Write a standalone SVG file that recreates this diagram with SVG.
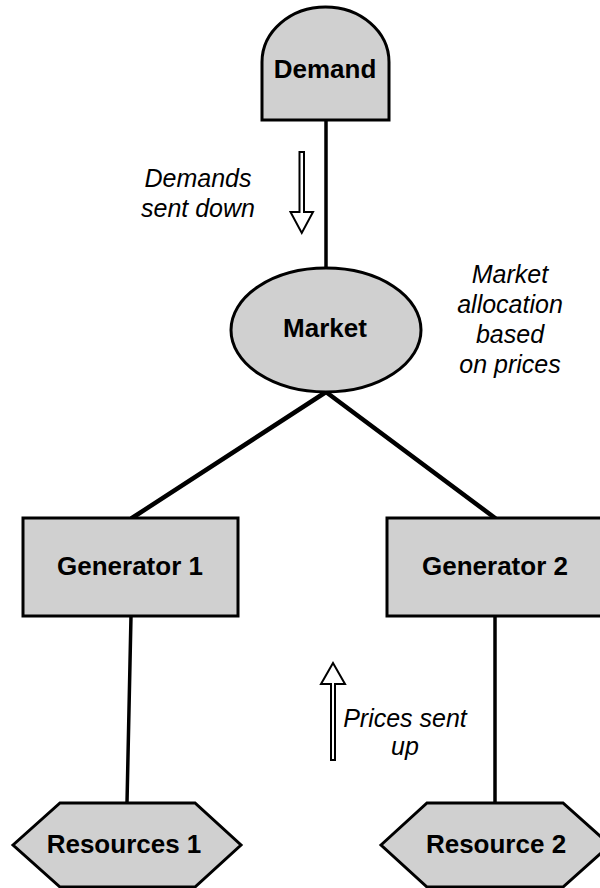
<svg xmlns="http://www.w3.org/2000/svg" width="600" height="888" viewBox="0 0 600 888">
<style>
.node{fill:#d0d0d0;stroke:#000;stroke-width:3;stroke-linejoin:miter}
.lbl{font-family:"Liberation Sans",Arial,sans-serif;font-weight:bold;font-size:26px;fill:#000;text-anchor:middle}
.note{font-family:"Liberation Sans",Arial,sans-serif;font-style:italic;font-size:25px;fill:#000;text-anchor:middle}
.conn{stroke:#000;fill:none;stroke-linecap:round}
.harrow{fill:#fff;stroke:#000;stroke-width:2;stroke-linejoin:miter}
</style>
<rect width="600" height="888" fill="#fff"/>
<g id="connectors">
<line class="conn" x1="326" y1="120" x2="326" y2="268" stroke-width="3.5"/>
<line class="conn" x1="326" y1="392" x2="132" y2="518" stroke-width="4.5"/>
<line class="conn" x1="326" y1="392" x2="495" y2="518" stroke-width="4.5"/>
<line class="conn" x1="131" y1="616" x2="127" y2="803" stroke-width="3.5"/>
<line class="conn" x1="495" y1="616" x2="495" y2="803" stroke-width="3.5"/>
</g>
<g id="demand">
<path class="node" d="M262,120 L262,62 A63.5,55 0 0 1 389,62 L389,120 Z"/>
<text class="lbl" x="325" y="78">Demand</text>
</g>
<g id="market">
<ellipse class="node" cx="326" cy="330" rx="95" ry="62" stroke-width="2"/>
<text class="lbl" x="325" y="337">Market</text>
</g>
<g id="generator1">
<rect class="node" x="23" y="518" width="215" height="98" stroke-width="2.5"/>
<text class="lbl" x="130" y="575">Generator 1</text>
</g>
<g id="generator2">
<rect class="node" x="387" y="518" width="215" height="98" stroke-width="2.5"/>
<text class="lbl" x="495" y="575">Generator 2</text>
</g>
<g id="resources1">
<polygon class="node" points="13,845 60,803 195,803 241,845 195,887 60,887"/>
<text class="lbl" x="124" y="853">Resources 1</text>
</g>
<g id="resource2">
<polygon class="node" points="381,845 427,803 563,803 610,845 563,887 427,887"/>
<text class="lbl" x="496" y="853">Resource 2</text>
</g>
<g id="annotations">
<path class="harrow" d="M299.5,152 L304,152 L304,212 L313,212 L301.75,233 L290.5,212 L299.5,212 Z"/>
<text class="note" x="198" y="187">Demands</text>
<text class="note" x="198" y="217">sent down</text>
<path class="harrow" d="M331,760 L335,760 L335,684 L345,684 L333,663 L321,684 L331,684 Z"/>
<text class="note" x="405" y="727">Prices sent</text>
<text class="note" x="405" y="755">up</text>
<text class="note" x="510" y="283">Market</text>
<text class="note" x="510" y="313">allocation</text>
<text class="note" x="510" y="343">based</text>
<text class="note" x="510" y="373">on prices</text>
</g>
</svg>
